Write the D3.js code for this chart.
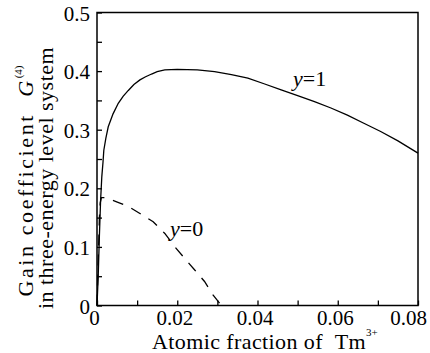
<!DOCTYPE html>
<html>
<head>
<meta charset="utf-8">
<script src="https://cdn.jsdelivr.net/npm/d3@7"></script>
<style>
  body { margin: 0; background: #fff; }
  svg text { font-family: "Liberation Serif", "Times New Roman", serif; fill: #000; }
</style>
</head>
<body>
<div id="chart"></div>
<script>
// Data
var xTicks = [0, 0.02, 0.04, 0.06, 0.08];
var xMinor = [0.01, 0.03, 0.05, 0.07];
var yTicks = [0, 0.1, 0.2, 0.3, 0.4, 0.5];
var yMinor = [0.05, 0.15, 0.25, 0.35, 0.45];

// y=1 (solid)
var xSolid = [0, 0.0003, 0.0006, 0.0009, 0.0012, 0.0015, 0.0017, 0.0022, 0.0028, 0.004, 0.0053, 0.0065, 0.0078, 0.0092, 0.0107, 0.012, 0.0136, 0.015, 0.0169, 0.02, 0.025, 0.0293, 0.0335, 0.0376, 0.0418, 0.0459, 0.05, 0.0542, 0.0583, 0.0624, 0.0665, 0.0707, 0.075, 0.08];
var ySolid = [0, 0.05, 0.12, 0.18, 0.22, 0.245, 0.265, 0.285, 0.305, 0.327, 0.345, 0.357, 0.367, 0.377, 0.385, 0.39, 0.395, 0.399, 0.402, 0.403, 0.402, 0.399, 0.394, 0.388, 0.378, 0.368, 0.358, 0.348, 0.337, 0.325, 0.311, 0.297, 0.281, 0.26];

// y=0 (dashed)
var xDash = [0, 0.0002, 0.0004, 0.0006, 0.0008, 0.0011, 0.002, 0.0049, 0.0078, 0.0107, 0.014, 0.0169, 0.0194, 0.0219, 0.0243, 0.0268, 0.0289, 0.031];
var yDash = [0, 0.05, 0.1, 0.15, 0.175, 0.184, 0.184, 0.177, 0.169, 0.157, 0.143, 0.123, 0.1, 0.08, 0.061, 0.041, 0.018, 0];

var svgWidth = 430;
var svgHeight = 353;
var serif = '"Liberation Serif", "Times New Roman", serif';

var plot = { left: 97, right: 418, top: 12.5, bottom: 305.5 };

var svg = d3.select("#chart")
  .append("svg")
  .attr("width", svgWidth)
  .attr("height", svgHeight);

var x = d3.scaleLinear().domain([0, 0.08]).range([plot.left, plot.right]);
var y = d3.scaleLinear().domain([0, 0.5]).range([plot.bottom, plot.top]);

// frame
svg.append("rect")
  .attr("x", plot.left)
  .attr("y", plot.top)
  .attr("width", plot.right - plot.left)
  .attr("height", plot.bottom - plot.top)
  .attr("fill", "none")
  .attr("stroke", "#000")
  .attr("stroke-width", 1.5);

// x axis
var xAxis = svg.append("g")
  .attr("transform", `translate(0, ${plot.bottom})`)
  .call(d3.axisBottom(x).tickValues(xTicks).tickSize(-5).tickPadding(5)
    .tickFormat(d => d === 0 ? "0" : d3.format(".2f")(d)));
svg.append("g")
  .attr("transform", `translate(0, ${plot.bottom})`)
  .call(d3.axisBottom(x).tickValues(xMinor).tickSize(-5).tickFormat(""));

// y axis
var yAxis = svg.append("g")
  .attr("transform", `translate(${plot.left}, 0)`)
  .call(d3.axisLeft(y).tickValues(yTicks).tickSize(-5).tickPadding(7)
    .tickFormat(d => d === 0 ? "0" : d3.format(".1f")(d)));
svg.append("g")
  .attr("transform", `translate(${plot.left}, 0)`)
  .call(d3.axisLeft(y).tickValues(yMinor).tickSize(-5).tickFormat(""));

svg.selectAll(".domain").remove();
svg.selectAll("g").attr("font-family", serif).attr("font-size", 21);
svg.selectAll(".tick line").attr("stroke", "#000").attr("stroke-width", 1.3);
svg.selectAll(".tick text")
  .attr("font-family", serif)
  .attr("font-size", 21)
  .attr("fill", "#000");
// labels sit a little left of their ticks in the original
xAxis.selectAll(".tick text").attr("dx", d => d === 0.08 ? -10 : -3);
yAxis.selectAll(".tick text").attr("dy", "0.36em");

// curves
var line = d3.line()
  .x(d => x(d[0]))
  .y(d => y(d[1]));

svg.append("path")
  .datum(d3.zip(xSolid, ySolid))
  .attr("d", line)
  .attr("fill", "none")
  .attr("stroke", "#000")
  .attr("stroke-width", 1.3);

svg.append("path")
  .datum(d3.zip(xDash, yDash))
  .attr("d", line)
  .attr("fill", "none")
  .attr("stroke", "#000")
  .attr("stroke-width", 1.3)
  .attr("stroke-dasharray", "11,9");

// curve labels
var lab1 = svg.append("text").attr("x", 293).attr("y", 86).attr("font-size", 22);
lab1.append("tspan").attr("font-style", "italic").text("y");
lab1.append("tspan").text("=1");

var lab0 = svg.append("text").attr("x", 170).attr("y", 236).attr("font-size", 22);
lab0.append("tspan").attr("font-style", "italic").text("y");
lab0.append("tspan").text("=0");

// x title
var xt = svg.append("text").attr("x", 152).attr("y", 349).attr("font-size", 22)
  .attr("letter-spacing", 0.4);
xt.append("tspan").text("Atomic fraction of \u00a0Tm");
xt.append("tspan").attr("dy", -13).attr("font-size", 11).attr("letter-spacing", 0).text("3+");

// y title (two lines)
var yt1 = svg.append("text")
  .attr("transform", "translate(33, 181) rotate(-90)")
  .attr("text-anchor", "middle")
  .attr("font-size", 22)
  .attr("letter-spacing", 2.6);
yt1.append("tspan").text("Gain coefficient \u00a0");
yt1.append("tspan").attr("font-style", "italic").text("G");
yt1.append("tspan").attr("dy", -11).attr("font-size", 11).attr("letter-spacing", 0).text("(4)");

svg.append("text")
  .attr("transform", "translate(53, 178) rotate(-90)")
  .attr("text-anchor", "middle")
  .attr("font-size", 22)
  .attr("letter-spacing", 0.5)
  .text("in three-energy level system");
</script>
</body>
</html>
